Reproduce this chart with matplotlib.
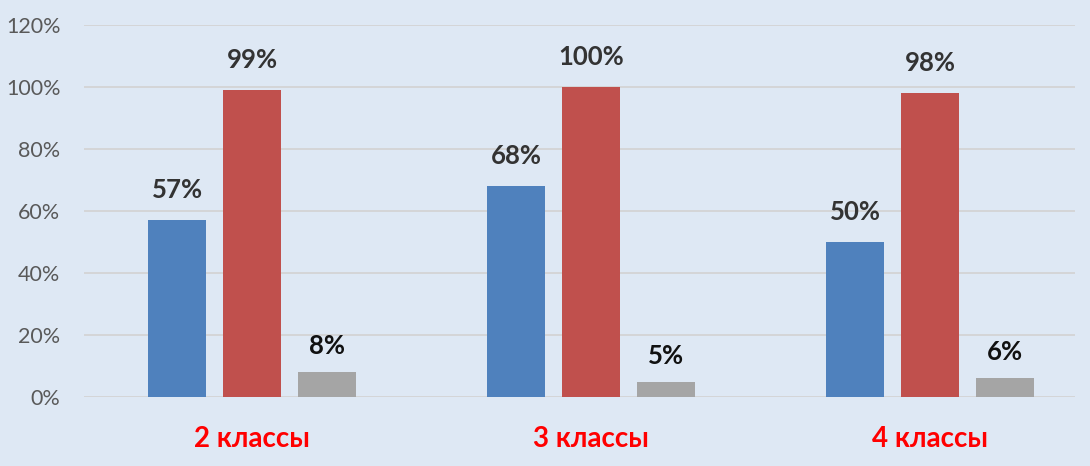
import matplotlib
matplotlib.use("Agg")
import matplotlib.pyplot as plt
from matplotlib.ticker import FuncFormatter
import numpy as np

categories = ["2 классы", "3 классы", "4 классы"]
series_blue = [57, 68, 50]
series_red = [99, 100, 98]
series_gray = [8, 5, 6]
yticks = [0, 20, 40, 60, 80, 100, 120]

bg = "#dee8f4"
fig = plt.figure(figsize=(10.9, 4.66), dpi=100, facecolor=bg)
ax = fig.add_axes([0.077, 0.148, 0.909, 0.798], facecolor=bg)

x = np.arange(len(categories))
w = 0.171
step = 0.221
series = [(series_blue, "#4f81bd", "#333333"), (series_red, "#c0504d", "#333333"), (series_gray, "#a5a5a5", "#111111")]
for i, (vals, col, tcol) in enumerate(series):
    pos = x + (i - 1) * step
    bars = ax.bar(pos, vals, width=w, color=col, zorder=3)
    for b, v in zip(bars, vals):
        ax.annotate(f"{v}%", (b.get_x() + b.get_width() / 2, v),
                    xytext=(0, 18 if i < 2 else 14),
                    textcoords="offset pixels", ha="center", va="bottom",
                    fontsize=18.5, fontweight="bold", color=tcol, family="Lato")

ax.set_ylim(0, 120)
ax.set_xlim(-0.496, 2.427)
ax.set_yticks(yticks)
ax.yaxis.set_major_formatter(FuncFormatter(lambda v, p: f"{int(v)}%"))
ax.set_xticks(x)
ax.set_xticklabels(categories)
for lab in ax.get_xticklabels():
    lab.set_color("#ff0000")
    lab.set_fontweight("bold")
    lab.set_fontsize(20)
    lab.set_family("Lato")
for lab in ax.get_yticklabels():
    lab.set_color("#595959")
    lab.set_fontsize(15.5)
    lab.set_family("Lato")
ax.tick_params(axis="y", length=0, pad=17)
ax.tick_params(axis="x", length=0, pad=21)
ax.grid(axis="y", color="#d4d4d4", linewidth=1.3, zorder=0)
for s in ax.spines.values():
    s.set_visible(False)

fig.savefig("out.png", dpi=100, facecolor=bg)
